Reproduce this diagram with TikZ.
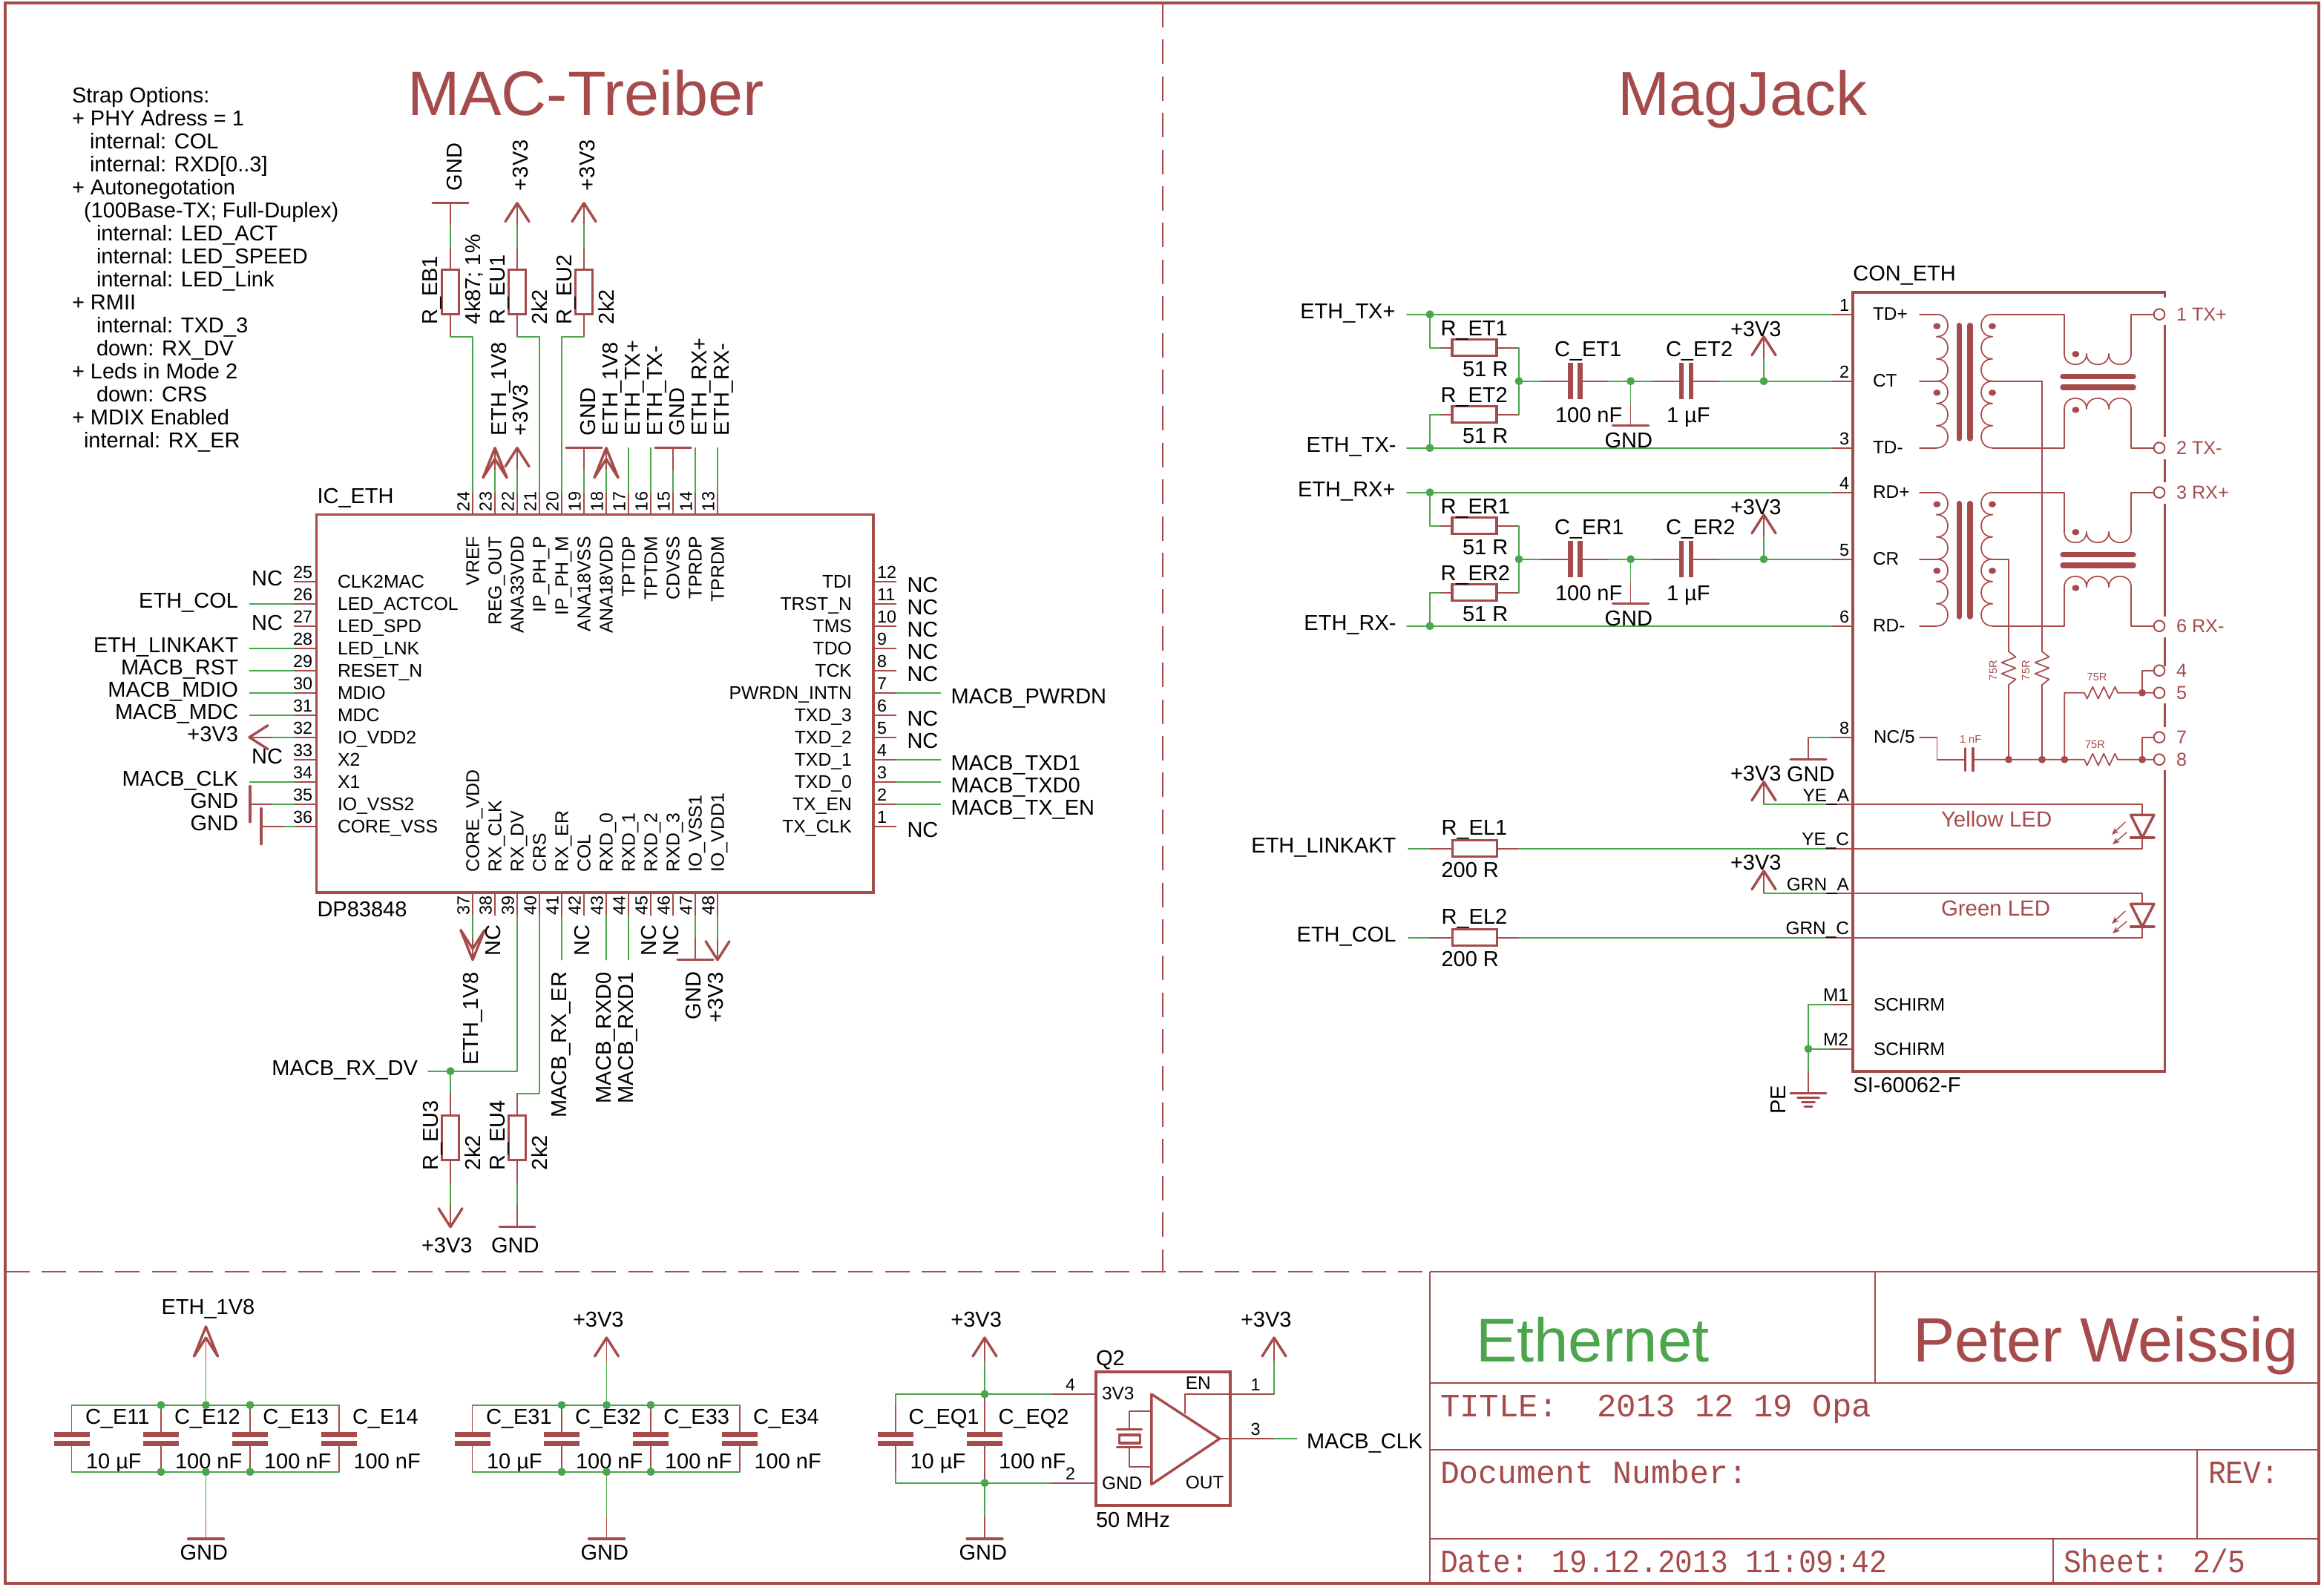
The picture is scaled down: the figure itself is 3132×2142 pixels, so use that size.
\documentclass[tikz,border=0pt]{standalone}
\usepackage{fontspec}
\setmainfont{Liberation Sans}
\newfontfamily\vmono{Liberation Mono}
\usetikzlibrary{arrows.meta,calc}
\definecolor{ered}{HTML}{A54B4B}
\definecolor{egreen}{HTML}{4BA54B}
\newcounter{lbn}
\tikzset{
 wire/.style={draw=egreen,line width=.85pt,line cap=round,line join=round},
 pinw/.style={draw=ered,line width=.85pt,line cap=round,line join=round},
 sym/.style={draw=ered,line width=1.7pt,line cap=round,line join=round},
 plate/.style={draw=ered,line width=3.2pt,line cap=butt},
 corebar/.style={draw=ered,line width=3.75pt,line cap=round},
 frameline/.style={draw=ered,line width=1.75pt},
 tableline/.style={draw=ered,line width=1pt},
 dashline/.style={draw=ered,line width=1pt,dash pattern=on 16.5pt off 8.2pt},
 resv/.style={draw=ered,line width=1.6pt,minimum width=11.5pt,minimum height=30pt,inner sep=0pt,outer sep=0pt},
 resh/.style={draw=ered,line width=1.6pt,minimum width=30pt,minimum height=11pt,inner sep=0pt,outer sep=0pt},
 term/.style={circle,draw=ered,line width=1pt,minimum size=7.3pt,inner sep=0pt,outer sep=0pt},
 box/.style={rectangle,draw=ered,line width=1.85pt,inner sep=0pt,outer sep=0pt},
 txt/.style={inner sep=0pt,outer sep=0pt,font=\fontsize{14.5}{16}\selectfont,text=black},
 pinnm/.style={font=\fontsize{12.4}{14}\selectfont},
 pinno/.style={font=\fontsize{11.7}{13}\selectfont},
 inner/.style={font=\fontsize{12.2}{14}\selectfont},
 redt/.style={text=ered},
 tiny/.style={text=ered,font=\fontsize{7.3}{9}\selectfont},
 big/.style={text=ered,font=\fontsize{42.3}{46}\selectfont},
 vec/.style={text=ered,font=\vmono\fontsize{22}{24}\selectfont},
 rt/.style={anchor=base east},
 up/.style={rotate=90},
}
\newcommand\lbl[3][]{\stepcounter{lbn}\node[txt,anchor=base west,#1] (lb\arabic{lbn}) at (#2) {#3};}
\newcommand\supup[1]{\draw[sym] (#1) +(-16,25) -- (#1) -- +(16,25);}
\newcommand\supdn[1]{\draw[sym] (#1) +(-16,-25) -- (#1) -- +(16,-25);}
\newcommand\suplf[1]{\draw[sym] (#1) +(25,-16) -- (#1) -- +(25,16);}
\newcommand\supupt[1]{\draw[sym] (#1) +(-16,40) -- (#1) -- +(16,40); \draw[sym] (#1) +(-16,40) -- +(0,15) -- +(16,40);}
\newcommand\supdnt[1]{\draw[sym] (#1) +(-16,-40) -- (#1) -- +(16,-40); \draw[sym] (#1) +(-16,-40) -- +(0,-15) -- +(16,-40);}
\newcommand\gndh[1]{\draw[sym] (#1) +(-24,0) -- +(24,0);}
\newcommand\gndv[1]{\draw[sym] (#1) +(0,-24) -- +(0,24);}
\newcommand\stemd[1]{\draw[pinw] (#1) -- +(0,30); \draw[wire] (#1) +(0,30) -- +(0,60);}
\newcommand\stemu[1]{\draw[pinw] (#1) -- +(0,-30); \draw[wire] (#1) +(0,-30) -- +(0,-60);}
\newcommand\jct[1]{\fill[egreen] (#1) circle[radius=5.5];}
\newcommand\rjct[1]{\fill[ered] (#1) circle[radius=5];}
\newcommand\caph[3]{\coordinate (#1-w) at (#2-6.5,#3);\coordinate (#1-e) at (#2+6.5,#3);\draw[plate] (#1-w) +(0,-24.5) -- +(0,24.5);\draw[plate] (#1-e) +(0,-24.5) -- +(0,24.5);}
\newcommand\capv[3]{\coordinate (#1-n) at (#2,#3-6);\coordinate (#1-s) at (#2,#3+6);\draw[plate] (#1-n) +(-24,0) -- +(24,0);\draw[plate] (#1-s) +(-24,0) -- +(24,0);}
\begin{document}
\begin{tikzpicture}[x=0.5pt,y=-0.5pt]
\useasboundingbox (0,0) rectangle (3132,2142);
% ---------- frame
\draw[frameline] (7,4) rectangle (3125,2134);
\draw[dashline] (1567,4) -- (1567,1714);
\draw[dashline] (7,1714) -- (1927,1714);
\draw[tableline] (1927,1714) -- (3125,1714);
\draw[tableline] (1927,1714) -- (1927,2134);
\draw[tableline] (2527,1714) -- (2527,1863.5);
\draw[tableline] (1927,1863.5) -- (3125,1863.5);
\draw[tableline] (1927,1953.7) -- (3125,1953.7);
\draw[tableline] (2961,1953.7) -- (2961,2073.7);
\draw[tableline] (1927,2073.7) -- (3125,2073.7);
\draw[tableline] (2766.5,2073.7) -- (2766.5,2134);
\lbl[big]{549,155}{MAC-Treiber}
\lbl[big,font=\fontsize{42}{46}\selectfont]{2180,155}{MagJack}
\lbl[big,text=egreen,font=\fontsize{41.6}{46}\selectfont]{1989,1835}{Ethernet}
\lbl[big,font=\fontsize{42.2}{46}\selectfont]{2578,1835}{Peter Weissig}
\lbl[vec]{1941,1909.3}{TITLE:~~2013 12 19 Opa}
\lbl[vec,xscale=.98,transform shape]{1941,1999.3}{Document Number:}
\lbl[vec,xscale=.9,transform shape]{2976,1999.3}{REV:}
\lbl[vec,xscale=.9,transform shape]{1941,2119.3}{Date: 19.12.2013 11:09:42}
\lbl[vec,xscale=.9,transform shape]{2781,2119.3}{Sheet: 2/5}
% ---------- strap options
\foreach \xx/\t [count=\i from 0] in {97/Strap Options:,97/+ PHY Adress = 1,121/internal: COL,121/{internal: RXD[0..3]},97/+ Autonegotation,113/{(100Base-TX; Full-Duplex)},130/internal: LED\_ACT,130/internal: LED\_SPEED,130/internal: LED\_Link,97/+ RMII,130/internal: TXD\_3,130/down: RX\_DV,97/+ Leds in Mode 2,130/down: CRS,97/+ MDIX Enabled,113/internal: RX\_ER}{
 \lbl{\xx,138+31*\i}{\t}
}
% ---------- IC
\node[box,minimum width=375.25pt,minimum height=254.85pt] (ic) at (801.75,948.3) {};
\lbl{427.5,678.5}{IC\_ETH}
\lbl{427.5,1235}{DP83848}
\foreach \nm [count=\i from 0] in {CLK2MAC,LED\_ACTCOL,LED\_SPD,LED\_LNK,RESET\_N,MDIO,MDC,IO\_VDD2,X2,X1,IO\_VSS2,CORE\_VSS}{
 \pgfmathtruncatemacro\pn{25+\i}\pgfmathsetmacro\y{783.7+30*\i}
 \coordinate (L\pn) at (426.5,\y); \coordinate (Ls\pn) at (396.5,\y);
 \draw[pinw] (L\pn) -- (Ls\pn);
 \lbl[pinnm]{455,\y+8.7}{\nm}
 \lbl[pinno]{395,\y-4.4}{\pn}
}
\foreach \nm [count=\i from 0] in {TDI,TRST\_N,TMS,TDO,TCK,PWRDN\_INTN,TXD\_3,TXD\_2,TXD\_1,TXD\_0,TX\_EN,TX\_CLK}{
 \pgfmathtruncatemacro\pn{12-\i}\pgfmathsetmacro\y{783.7+30*\i}
 \coordinate (R\pn) at (1177,\y); \coordinate (Rs\pn) at (1207.5,\y);
 \draw[pinw] (R\pn) -- (Rs\pn);
 \lbl[pinnm,rt]{1148,\y+8.7}{\nm}
 \lbl[pinno]{1182,\y-4.4}{\pn}
}
\foreach \nm [count=\i from 0] in {VREF,REG\_OUT,ANA33VDD,IP\_PH\_P,IP\_PH\_M,ANA18VSS,ANA18VDD,TPTDP,TPTDM,CDVSS,TPRDP,TPRDM}{
 \pgfmathtruncatemacro\pn{24-\i}\pgfmathsetmacro\xx{637+30*\i}
 \coordinate (T\pn) at (\xx,693.5); \coordinate (Ts\pn) at (\xx,663.7);
 \draw[pinw] (T\pn) -- (Ts\pn);
 \lbl[pinnm,up,rt]{\xx+8.7,723}{\nm}
 \lbl[pinno,up]{\xx-4.4,689}{\pn}
}
\foreach \nm [count=\i from 0] in {CORE\_VDD,RX\_CLK,RX\_DV,CRS,RX\_ER,COL,RXD\_0,RXD\_1,RXD\_2,RXD\_3,IO\_VSS1,IO\_VDD1}{
 \pgfmathtruncatemacro\pn{37+\i}\pgfmathsetmacro\xx{637+30*\i}
 \coordinate (B\pn) at (\xx,1203); \coordinate (Bs\pn) at (\xx,1233.7);
 \draw[pinw] (B\pn) -- (Bs\pn);
 \lbl[pinnm,up]{\xx+8.7,1175.3}{\nm}
 \lbl[pinno,up]{\xx-4.4,1233.5}{\pn}
}
% left nets
\foreach \p in {25,27,33}{\lbl[rt]{381,783.7+30*\p-750+5.6}{NC}}
\foreach \p/\t in {26/ETH\_COL,28/ETH\_LINKAKT,29/MACB\_RST,30/MACB\_MDIO,31/MACB\_MDC,34/MACB\_CLK}{
 \draw[wire] (Ls\p) -- +(-60,0);
 \lbl[rt]{321,783.7+30*\p-750+5.6}{\t}
}
\coordinate (v32) at (336,993.7); \suplf{v32}
\draw[pinw] (v32) -- +(31,0); \draw[wire] (v32) +(31,0) -- (Ls32);
\lbl[rt]{321,999.3}{+3V3}
\coordinate (g35) at (337,1083.7); \gndv{g35}
\draw[pinw] (g35) -- +(30,0); \draw[wire] (g35) +(30,0) -- (Ls35);
\lbl[rt]{321,1089.3}{GND}
\coordinate (g36) at (352,1113.7); \gndv{g36}
\draw[pinw] (g36) -- +(30,0); \draw[wire] (g36) +(30,0) -- (Ls36);
\lbl[rt]{321,1119.3}{GND}
% right nets
\foreach \p in {12,11,10,9,8,6,5,1}{\lbl{1222.5,783.7+30*12-30*\p+15}{NC}}
\foreach \p/\t in {7/MACB\_PWRDN,4/MACB\_TXD1,3/MACB\_TXD0,2/MACB\_TX\_EN}{
 \draw[wire] (Rs\p) -- +(60,0);
 \lbl{1281.7,783.7+30*12-30*\p+15}{\t}
}
% top nets and pull resistors
\node[resv] (REB1) at (607,393.7) {};
\node[resv] (REU1) at (697,393.7) {};
\node[resv] (REU2) at (787,393.7) {};
\coordinate (gEB) at (607,273.7); \gndh{gEB} \stemd{gEB}
\coordinate (vEU1) at (697,273.7); \supup{vEU1} \stemd{vEU1}
\coordinate (vEU2) at (787,273.7); \supup{vEU2} \stemd{vEU2}
\draw[pinw] (607,333.7) -- (REB1.north); \draw[pinw] (697,333.7) -- (REU1.north); \draw[pinw] (787,333.7) -- (REU2.north);
\coordinate (bEB) at (607,453.7); \coordinate (bEU1) at (697,453.7); \coordinate (bEU2) at (787,453.7);
\draw[pinw] (REB1.south) -- (bEB); \draw[pinw] (REU1.south) -- (bEU1); \draw[pinw] (REU2.south) -- (bEU2);
\draw[wire] (bEB) -| (Ts24); \draw[wire] (bEU1) -| (Ts21); \draw[wire] (bEU2) -| (Ts20);
\lbl[up]{622.4,257}{GND}
\lbl[up]{711.7,257}{+3V3}
\lbl[up]{801.7,257}{+3V3}
\lbl[up]{589.3,437}{R\_EB1}
\lbl[up]{647,437}{4k87; 1\%}
\lbl[up]{680,437}{R\_EU1}
\lbl[up]{737,437}{2k2}
\lbl[up]{770,437}{R\_EU2}
\lbl[up]{827,437}{2k2}
\coordinate (v23) at (667,603.7); \supupt{v23} \stemd{v23}
\coordinate (v22) at (697,603.7); \supup{v22} \stemd{v22}
\coordinate (g19) at (787,603.7); \gndh{g19} \stemd{g19}
\coordinate (v18) at (817,603.7); \supupt{v18} \stemd{v18}
\coordinate (g15) at (907,603.7); \gndh{g15} \stemd{g15}
\foreach \p/\xx in {17/847,16/877,14/937,13/967}{\draw[wire] (Ts\p) -- +(0,-60);}
\lbl[up]{682.6,587}{ETH\_1V8}
\lbl[up]{711.7,587}{+3V3}
\lbl[up]{802,587}{GND}
\lbl[up]{832.6,587}{ETH\_1V8}
\lbl[up]{862,587}{ETH\_TX+}
\lbl[up]{892,587}{ETH\_TX-}
\lbl[up]{922,587}{GND}
\lbl[up]{952,587}{ETH\_RX+}
\lbl[up]{982,587}{ETH\_RX-}
% bottom nets
\coordinate (v37) at (637,1293.7); \supdnt{v37} \stemu{v37}
\coordinate (g47) at (937,1293.7); \gndh{g47} \stemu{g47}
\coordinate (v48) at (967,1293.7); \supdn{v48} \stemu{v48}
\lbl[up,rt]{644,1310}{ETH\_1V8}
\lbl[up,rt]{944,1310}{GND}
\lbl[up,rt]{974,1310}{+3V3}
\foreach \xx in {674,794,884,914}{\lbl[up]{\xx,1288}{NC}}
\foreach \p in {41,43,44}{\draw[wire] (Bs\p) -- +(0,60);}
\lbl[up,rt]{763,1310}{MACB\_RX\_ER}
\lbl[up,rt]{823,1310}{MACB\_RXD0}
\lbl[up,rt]{853,1310}{MACB\_RXD1}
\coordinate (jDV) at (607,1443.7); \coordinate (fDV) at (577,1443.7);
\draw[wire] (Bs39) |- (fDV); \jct{jDV}
\lbl[rt]{563,1449.3}{MACB\_RX\_DV}
\node[resv] (REU3) at (607,1533.7) {};
\node[resv] (REU4) at (697,1533.7) {};
\draw[wire] (jDV) -- (607,1473.7); \draw[pinw] (607,1473.7) -- (REU3.north);
\coordinate (tEU4) at (697,1473.7);
\draw[wire] (Bs40) |- (tEU4); \draw[pinw] (tEU4) -- (REU4.north);
\coordinate (vEU3) at (607,1653.7); \supdn{vEU3} \stemu{vEU3}
\coordinate (gEU4) at (697,1653.7); \gndh{gEU4} \stemu{gEU4}
\draw[pinw] (607,1593.7) -- (REU3.south); \draw[pinw] (697,1593.7) -- (REU4.south);
\lbl[up]{590,1577}{R\_EU3}
\lbl[up]{647,1577}{2k2}
\lbl[up]{680,1577}{R\_EU4}
\lbl[up]{737,1577}{2k2}
\lbl{568,1688.5}{+3V3}
\lbl{662,1688.5}{GND}
% ---------- connector
\draw[box] (2917.5,401) -- (2917.5,394) -- (2497,394) -- (2497,1443.7) -- (2917.5,1443.7) -- (2917.5,1038);
\draw[box] (2917.5,437.6) -- (2917.5,589);
\draw[box] (2917.5,618.6) -- (2917.5,650);
\draw[box] (2917.5,679) -- (2917.5,830.7);
\draw[box] (2917.5,859) -- (2917.5,898);
\draw[box] (2917.5,948) -- (2917.5,980);
\lbl{2497.3,378}{CON\_ETH}
\lbl{2497.5,1472.7}{SI-60062-F}
\foreach \n/\y in {1/423.7,2/603.7,3/663.7,6/843.7,4/903.7,5/933.7,7/993.7,8/1023.7}{\node[term] (J\n) at (2910,\y) {};}
\lbl[redt,font=\fontsize{12.6}{14}\selectfont]{2933,432.4}{1 TX+}
\lbl[redt,font=\fontsize{12.6}{14}\selectfont]{2933,612.4}{2 TX-}
\lbl[redt,font=\fontsize{12.6}{14}\selectfont]{2933,672.4}{3 RX+}
\lbl[redt,font=\fontsize{12.6}{14}\selectfont]{2933,852.4}{6 RX-}
\lbl[redt,font=\fontsize{12.6}{14}\selectfont]{2933,912.4}{4}
\lbl[redt,font=\fontsize{12.6}{14}\selectfont]{2933,942.4}{5}
\lbl[redt,font=\fontsize{12.6}{14}\selectfont]{2933,1002.4}{7}
\lbl[redt,font=\fontsize{12.6}{14}\selectfont]{2933,1032.4}{8}
% transformers and termination networks
\foreach \dy/\s/\pa/\pb/\pc/\ja/\jb/\tp/\la/\lb/\lc in {0/T/1/2/3/J1/J2/2752/TD+/CT/TD-,240/R/4/5/6/J3/J6/2707/RD+/CR/RD-}{
\begin{scope}[shift={(0,\dy)}]
 \foreach \k in {0,...,5}{
  \pgfmathsetmacro\ya{423.7+30*\k}\pgfmathsetmacro\yb{\ya+30}
  \draw[pinw] (2610,\ya) .. controls (2630,\ya) and (2630,\yb) .. (2610,\yb);
  \draw[pinw] (2685,\ya) .. controls (2665,\ya) and (2665,\yb) .. (2685,\yb);
 }
 \foreach \y in {423.7,513.7,603.7}{\draw[pinw] (2587,\y) -- (2610,\y);}
 \foreach \y in {439.6,529.3}{\fill[ered] (2610.3,\y) ellipse[x radius=5,y radius=4.2]; \fill[ered] (2685,\y) ellipse[x radius=5,y radius=4.2];}
 \draw[corebar] (2640.3,438.6) -- (2640.3,591);
 \draw[corebar] (2655,438.6) -- (2655,591);
 \draw[corebar] (2780,507.6) -- (2875,507.6);
 \draw[corebar] (2780,522) -- (2875,522);
 \fill[ered] (2797.3,477.2) ellipse[x radius=5,y radius=4.2];
 \fill[ered] (2797.3,552.4) ellipse[x radius=5,y radius=4.2];
 \draw[pinw] (2685,423.7) -- (2782,423.7) -- (2782,477);
 \foreach \k in {0,1,2}{
  \pgfmathsetmacro\xa{2782+30*\k}\pgfmathsetmacro\xb{\xa+30}
  \draw[pinw] (\xa,477) .. controls (\xa,496) and (\xb,496) .. (\xb,477);
  \draw[pinw] (\xa,551) .. controls (\xa,532) and (\xb,532) .. (\xb,551);
 }
 \draw[pinw] (2872,477) -- (2872,423.7) -- (\ja);
 \draw[pinw] (\jb) -- (2872,603.7) -- (2872,551);
 \draw[pinw] (2782,551) -- (2782,603.7) -- (2685,603.7);
 \draw[pinw] (2685,513.7) -- (\tp,513.7);
 \lbl[inner]{2524,431.7}{\la}
 \lbl[inner]{2524,521.7}{\lb}
 \lbl[inner]{2524,611.7}{\lc}
 % pins
 \foreach \y/\n in {423.7/\pa,513.7/\pb,603.7/\pc}{
  \draw[pinw] (2497,\y) -- (2468,\y);
  \lbl[pinno,rt]{2492,\y-4.4}{\n}
 }
 \coordinate (Fa\s) at (1896,423.7); \coordinate (Ja\s) at (1927,423.7);
 \coordinate (Fc\s) at (1896,603.7); \coordinate (Jc\s) at (1927,603.7);
 \coordinate (Pa\s) at (2468,423.7); \coordinate (Pb\s) at (2468,513.7); \coordinate (Pc\s) at (2468,603.7);
 \draw[wire] (Fa\s) -- (Pa\s); \draw[wire] (Fc\s) -- (Pc\s);
 \jct{Ja\s} \jct{Jc\s}
 \node[resh] (RE\s1) at (1987,468.7) {};
 \node[resh] (RE\s2) at (1987,558.7) {};
 \coordinate (Jm\s) at (2047,513.7);
 \draw[wire] (Ja\s) |- (1942,468.7); \draw[pinw] (1942,468.7) -- (RE\s1.west);
 \draw[wire] (Jc\s) |- (1942,558.7); \draw[pinw] (1942,558.7) -- (RE\s2.west);
 \draw[pinw] (RE\s1.east) -- (2047,468.7); \draw[pinw] (RE\s2.east) -- (2047,558.7);
 \draw[wire] (2047,468.7) -- (2047,558.7);
 \jct{Jm\s}
 \caph{CE\s1}{2123}{513.7}
 \caph{CE\s2}{2272.5}{513.7}
 \coordinate (Jg\s) at (2197.6,513.7);
 \coordinate (Jv\s) at (2377,513.7);
 \draw[wire] (Jm\s) -- (2077,513.7); \draw[pinw] (2077,513.7) -- (CE\s1-w);
 \draw[pinw] (CE\s1-e) -- (2167.4,513.7); \draw[wire] (2167.4,513.7) -- (2227.7,513.7);
 \draw[pinw] (2227.7,513.7) -- (CE\s2-w); \draw[pinw] (CE\s2-e) -- (2317,513.7);
 \draw[wire] (2317,513.7) -- (Pb\s);
 \jct{Jg\s} \jct{Jv\s}
 \coordinate (gC\s) at (2197.6,573.7); \gndh{gC\s}
 \draw[pinw] (gC\s) -- +(0,-30); \draw[wire] (gC\s) +(0,-30) -- (Jg\s);
 \coordinate (vC\s) at (2377,453.7); \supup{vC\s}
 \draw[pinw] (vC\s) -- +(0,30); \draw[wire] (vC\s) +(0,30) -- (Jv\s);
 \lbl[rt]{1880.5,429.3}{ETH\_\s{}X+}
 \lbl[rt]{1881.5,609.3}{ETH\_\s{}X-}
 \lbl{1941.5,452.5}{R\_E\s1}
 \lbl{1971,507}{51 R}
 \lbl{1941.5,542.5}{R\_E\s2}
 \lbl{1971,597}{51 R}
 \lbl{2095,480}{C\_E\s1}
 \lbl{2096,569.3}{100 nF}
 \lbl{2245,480}{C\_E\s2}
 \lbl{2246,569.3}{1 µF}
 \lbl{2162.5,603}{GND}
 \lbl{2332,453}{+3V3}
\end{scope}
}
% center taps to 75R network
\foreach \xx in {2707,2752}{
 \draw[pinw] (\xx,754) -- (\xx,878) -- ++(9.5,7.5) -- ++(-19,7.5) -- ++(19,7.5) -- ++(-19,7.5) -- ++(19,7.5) -- ++(-9.5,7.5) -- (\xx,1023.7);
 \rjct{\xx,1023.7}
}
\draw[pinw] (2752,513.7) -- (2752,754);
\lbl[tiny,up]{2691,917}{75R}
\lbl[tiny,up]{2735,917}{75R}
\lbl[inner]{2525,1001.7}{NC/5}
\coordinate (Cnf-w) at (2648.5,1023.7); \coordinate (Cnf-e) at (2659,1023.7);
\draw[sym] (Cnf-w) +(0,-15) -- +(0,15);
\draw[sym] (Cnf-e) +(0,-15) -- +(0,15);
\draw[pinw] (2587,993.7) -- (2610.6,993.7) -- (2610.6,1023.7) -- (Cnf-w);
\draw[pinw] (Cnf-e) -- (2809,1023.7) -- ++(3.7,8) -- ++(7.5,-16) -- ++(7.5,16) -- ++(7.5,-16) -- ++(7.5,16) -- ++(7.5,-16) -- (2854,1023.7) -- (J8);
\draw[pinw] (2782.3,1023.7) -- (2782.3,933.7) -- (2809,933.7) -- ++(3.7,8) -- ++(7.5,-16) -- ++(7.5,16) -- ++(7.5,-16) -- ++(7.5,16) -- ++(7.5,-16) -- (2854,933.7) -- (J5);
\draw[pinw] (J7) -- (2887,993.7) -- (2887,1023.7);
\draw[pinw] (J4) -- (2887,903.7) -- (2887,933.7);
\rjct{2782.3,1023.7} \rjct{2887,1023.7} \rjct{2887,933.7}
\lbl[tiny]{2641,1001.7}{1 nF}
\lbl[tiny]{2812.6,917}{75R}
\lbl[tiny]{2810,1008}{75R}
% pin 8
\coordinate (g8) at (2437,1023.7); \gndh{g8}
\draw[pinw] (g8) -- (2437,993.7) ; \draw[wire] (2437,993.7) -- (2467.5,993.7); \draw[pinw] (2467.5,993.7) -- (2497,993.7);
\lbl[pinno,rt]{2492,989.3}{8}
\lbl{2408,1053}{GND}
% LEDs
\foreach \dy/\a/\c/\name/\rr/\net in {0/YE\_A/YE\_C/Yellow LED/1/ETH\_LINKAKT,120/GRN\_A/GRN\_C/Green LED/2/ETH\_COL}{
\begin{scope}[shift={(0,\dy)}]
 \coordinate (va\rr) at (2377,1053.7); \supup{va\rr}
 \draw[pinw] (va\rr) -- (2377,1083.7);
 \draw[wire] (2377,1083.7) -- (2461,1083.7);
 \draw[pinw] (2461,1083.7) -- (2887,1083.7) -- (2887,1098.3);
 \draw[sym] (2871.5,1098.3) -- (2903,1098.3) -- (2887,1129) -- cycle;
 \draw[sym] (2871.5,1129) -- (2903,1129);
 \draw[pinw] (2887,1129) -- (2887,1143.7) -- (2461,1143.7);
 \draw[pinw,line width=.7pt,-{Stealth[length=5pt,width=4pt]}] (2864,1108) -- (2846,1125);
 \draw[pinw,line width=.7pt,-{Stealth[length=5pt,width=4pt]}] (2866,1122) -- (2847,1138);
 \node[resh] (REL\rr) at (1987.5,1143.7) {};
 \coordinate (fL\rr) at (1898,1143.7);
 \draw[wire] (fL\rr) -- (1927,1143.7); \draw[pinw] (1927,1143.7) -- (REL\rr.west);
 \draw[pinw] (REL\rr.east) -- (2047,1143.7); \draw[wire] (2047,1143.7) -- (2461,1143.7);
 \lbl[rt]{1881.4,1149.3}{\net}
 \lbl{1942.6,1125}{R\_EL\rr}
 \lbl{1942.5,1182.3}{200 R}
 \lbl{2332,1052.7}{+3V3}
 \lbl[inner,rt]{2492,1080}{\a}
 \lbl[inner,rt]{2492,1139.3}{\c}
 \lbl[redt,font=\fontsize{14.7}{16}\selectfont]{2616,1114}{\name}
\end{scope}
}
% shield
\foreach \y/\m in {1353.7/M1,1413.7/M2}{
 \draw[pinw] (2497,\y) -- (2467,\y); \draw[wire] (2467,\y) -- (2437,\y);
 \lbl[inner,rt]{2491,\y-4.4}{\m}
 \lbl[inner]{2525,\y+9}{SCHIRM}
}
\coordinate (pe) at (2437,1473.7);
\draw[wire] (2437,1353.7) -- (2437,1443.7); \draw[pinw] (2437,1443.7) -- (pe);
\jct{2437,1413.7}
\draw[sym] (pe) +(-24,0) -- +(24,0);
\draw[sym] (pe) +(-14.5,6) -- +(14.5,6);
\draw[sym] (pe) +(-8.5,12) -- +(8.5,12);
\draw[sym] (pe) +(-5,18) -- +(5,18);
\lbl[up]{2406,1501.7}{PE}
% ---------- decoupling groups
\foreach \g/\gx in {1/0,3/540}{
\begin{scope}[shift={(\gx,0)}]
 \foreach \k/\cx/\tx/\vx/\val in {1/96.5/115/116/10 µF,2/217/235/236/100 nF,3/337/354.4/356/100 nF,4/457/475/476.5/100 nF}{
  \capv{CD\g\k}{\cx}{1939.3}
  \draw[pinw] (\cx,1893.7) -- (CD\g\k-n); \draw[pinw] (CD\g\k-s) -- (\cx,1983.7);
  \lbl{\tx,1919.3}{C\_E\g\k}
  \lbl{\vx,1979.3}{\val}
 }
 \draw[wire] (96.5,1893.7) -- (457,1893.7);
 \draw[wire] (96.5,1983.7) -- (457,1983.7);
 \foreach \jx in {217,277.5,337}{\jct{\jx,1893.7} \jct{\jx,1983.7}}
 \coordinate (gD\g) at (277.5,2074); \gndh{gD\g}
 \draw[pinw] (gD\g) -- +(0,-30); \draw[wire] (gD\g) +(0,-30) -- (277.5,1983.7);
 \draw[wire] (277.5,1893.7) -- (277.5,1835); \draw[pinw] (277.5,1835) -- (277.5,1803);
 \lbl{242.5,2102.7}{GND}
\end{scope}
}
\coordinate (v1V8) at (277.5,1788); \supupt{v1V8}
\lbl{217.5,1771}{ETH\_1V8}
\coordinate (v3D) at (817.5,1803); \supup{v3D}
\lbl{772,1788.3}{+3V3}
% oscillator group
\capv{CQ1}{1207}{1939.3}
\capv{CQ2}{1327}{1939.3}
\coordinate (qt) at (1327,1879); \coordinate (qb) at (1327,1998.7);
\draw[wire] (1207,1895) |- (1417.6,1879);
\draw[wire] (1207,1984) |- (1417.6,1998.7);
\draw[pinw] (1207,1895) -- (CQ1-n); \draw[pinw] (CQ1-s) -- (1207,1984);
\draw[pinw] (qt) -- (CQ2-n); \draw[pinw] (CQ2-s) -- (qb);
\jct{qt} \jct{qb}
\coordinate (vQ) at (1327,1803); \supup{vQ}
\draw[pinw] (vQ) -- (1327,1835); \draw[wire] (1327,1835) -- (qt);
\coordinate (gQ) at (1327,2074); \gndh{gQ}
\draw[pinw] (gQ) -- (1327,2044); \draw[wire] (1327,2044) -- (qb);
\node[box,draw=ered,line width=2pt,minimum width=90.1pt,minimum height=90.3pt] (Q2) at (1567.4,1939) {};
\draw[pinw] (1417.6,1879) -- (1477.3,1879);
\draw[pinw] (1417.6,1998.7) -- (1477.3,1998.7);
\draw[sym] (1551.8,1879) -- (1643.7,1939) -- (1551.8,2000.7) -- cycle;
\draw[pinw] (1596.7,1905) -- (1596.7,1879) -- (1717,1879);
\coordinate (vE) at (1717,1803); \supup{vE}
\draw[pinw] (vE) -- (1717,1835); \draw[wire] (1717,1835) -- (1717,1879);
\draw[pinw] (1643.7,1939) -- (1717,1939); \coordinate (fClk) at (1747.8,1939); \draw[wire] (1717,1939) -- (fClk);
\draw[pinw] (1551.8,1902) -- (1522,1902) -- (1522,1926.7);
\draw[pinw] (1551.8,1977) -- (1522,1977) -- (1522,1950.7);
\draw[sym] (1505.4,1926.7) -- (1538.6,1926.7);
\draw[sym] (1505.4,1950.7) -- (1538.6,1950.7);
\draw[sym] (1508.5,1934) rectangle (1536.5,1945);
\lbl{1224.5,1919.3}{C\_EQ1}
\lbl{1345.5,1919.3}{C\_EQ2}
\lbl{1226.5,1979.3}{10 µF}
\lbl{1346,1979.3}{100 nF}
\lbl[pinno]{1436,1874}{4}
\lbl[pinno]{1436,1994}{2}
\lbl[pinno]{1685.5,1874}{1}
\lbl[pinno]{1685.5,1934}{3}
\lbl{1292.6,2102.7}{GND}
\lbl{1281.4,1788.3}{+3V3}
\lbl{1672,1788.3}{+3V3}
\lbl{1477,1840.7}{Q2}
\lbl{1477,2058.3}{50 MHz}
\lbl[inner]{1485,1886.7}{3V3}
\lbl[inner]{1485,2007.3}{GND}
\lbl[inner]{1597.8,1872.7}{EN}
\lbl[inner]{1597.8,2006.7}{OUT}
\lbl{1761,1952.7}{MACB\_CLK}
\end{tikzpicture}
\end{document}
